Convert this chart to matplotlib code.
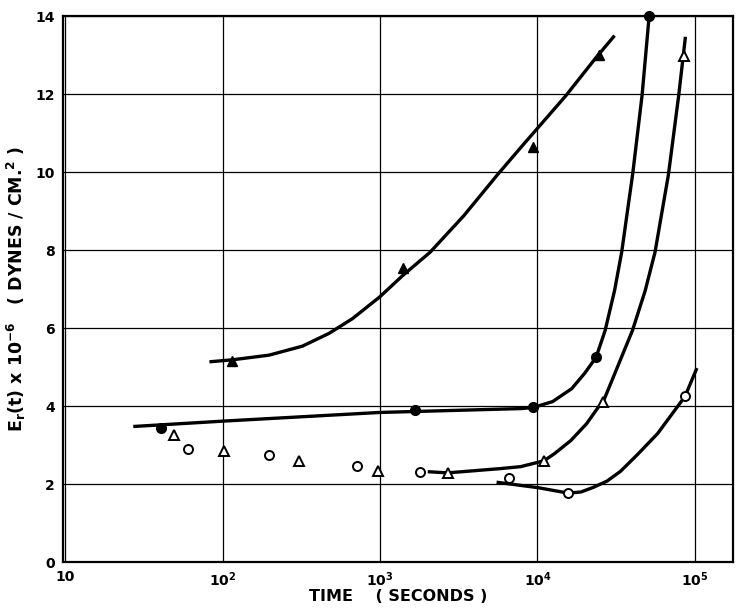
import matplotlib
matplotlib.use("Agg")
import matplotlib.pyplot as plt
from matplotlib.ticker import FixedLocator, NullLocator

plt.rcParams["font.family"] = "DejaVu Sans"
plt.rcParams["mathtext.fontset"] = "custom"
plt.rcParams["mathtext.rm"] = "DejaVu Sans:bold"
plt.rcParams["mathtext.it"] = "DejaVu Sans:bold"
plt.rcParams["mathtext.default"] = "rm"

# measured points (time in s, modulus in 1e6 dynes/cm^2)
solid_tri_t = [115, 1390, 9350, 24500]
solid_tri_e = [5.17, 7.55, 10.66, 13.0]

solid_dot_t = [40.8, 1660, 9440, 23600, 51200]
solid_dot_e = [3.45, 3.91, 3.97, 5.26, 14.0]

open_tri_t = [49.3, 102, 305, 966, 2690, 11000, 26200, 85500]
open_tri_e = [3.27, 2.85, 2.60, 2.33, 2.29, 2.60, 4.12, 12.98]

open_dot_t = [60.4, 197, 713, 1790, 6560, 15700, 86500]
open_dot_e = [2.91, 2.74, 2.46, 2.32, 2.17, 1.77, 4.25]

# hand-drawn curves
curve_a_t = [82.6, 115, 197, 321, 475, 670, 993, 1400, 2080, 3410, 5600,
             8320, 9660, 15100, 23500, 30900]
curve_a_e = [5.14, 5.19, 5.31, 5.54, 5.87, 6.25, 6.80, 7.36, 7.95, 8.89,
             9.95, 10.76, 11.06, 11.96, 12.94, 13.51]

curve_b_t = [27.1, 103, 993, 7910, 9440, 12500, 16500, 20000, 23600, 26900,
             30900, 34300, 40300, 46200, 51200]
curve_b_e = [3.48, 3.62, 3.84, 3.94, 3.97, 4.12, 4.45, 4.85, 5.26, 5.94,
             6.97, 7.96, 9.97, 11.98, 14.0]

curve_c_t = [2010, 2690, 5830, 7830, 11000, 12800, 16300, 20500, 24300,
             26200, 40100, 48300, 55800, 67900, 78900, 87100]
curve_c_e = [2.32, 2.29, 2.40, 2.45, 2.60, 2.78, 3.12, 3.55, 3.97,
             4.12, 5.94, 6.96, 7.95, 9.94, 11.97, 13.48]

curve_d_t = [5500, 10100, 15700, 18900, 22700, 27700, 33700, 43200,
             58000, 86500, 103000]
curve_d_e = [2.05, 1.91, 1.77, 1.80, 1.92, 2.08, 2.33, 2.76,
             3.30, 4.25, 4.98]

x_ticks = [10, 100, 1000, 10000, 100000]
x_tick_labels = ["10", "10$^2$", "10$^3$", "10$^4$", "10$^5$"]
y_ticks = [0, 2, 4, 6, 8, 10, 12, 14]

fig = plt.figure(figsize=(7.36, 6.11), dpi=100)
ax = fig.add_axes([0.0856, 0.080, 0.910, 0.893])
ax.set_xscale("log")
ax.set_xlim(9.7, 1.74e5)
ax.set_ylim(0, 14)

ax.xaxis.set_major_locator(FixedLocator(x_ticks))
ax.xaxis.set_minor_locator(NullLocator())
ax.set_xticklabels(x_tick_labels)
ax.set_yticks(y_ticks)
ax.tick_params(length=0, labelsize=10, pad=6)
for lab in ax.get_xticklabels() + ax.get_yticklabels():
    lab.set_fontweight("bold")
ax.grid(True, color="black", linewidth=0.9)
ax.set_axisbelow(True)
for side in ax.spines.values():
    side.set_linewidth(1.6)

for ct, ce in [(curve_a_t, curve_a_e), (curve_b_t, curve_b_e),
               (curve_c_t, curve_c_e), (curve_d_t, curve_d_e)]:
    ax.plot(ct, ce, color="black", linewidth=2.4, solid_capstyle="butt",
            solid_joinstyle="round", zorder=3)

ax.plot(solid_tri_t, solid_tri_e, "^", color="black", markersize=7, zorder=4)
ax.plot(solid_dot_t, solid_dot_e, "o", color="black", markersize=7, zorder=4,
        clip_on=False)
ax.plot(open_tri_t, open_tri_e, "^", markerfacecolor="white",
        markeredgecolor="black", markeredgewidth=1.4, markersize=7, zorder=4)
ax.plot(open_dot_t, open_dot_e, "o", markerfacecolor="white",
        markeredgecolor="black", markeredgewidth=1.4, markersize=6.5, zorder=4)

ax.set_xlabel("TIME    ( SECONDS )", fontsize=11.5, fontweight="bold", labelpad=0)
ax.set_ylabel("E$_r$(t) x 10$^{-6}$   ( DYNES / CM.$^2$ )", fontsize=12.5,
              fontweight="bold", labelpad=5)

fig.savefig("out.png", dpi=100)
